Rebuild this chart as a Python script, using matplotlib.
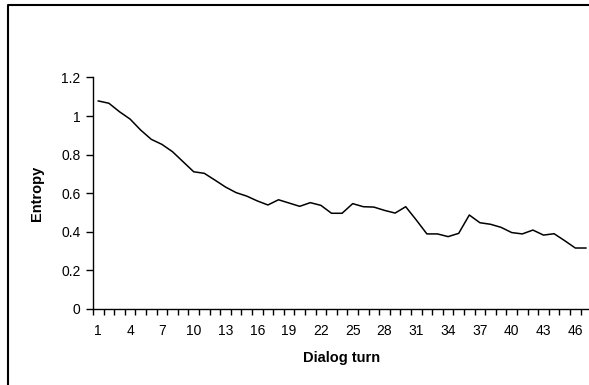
import matplotlib.pyplot as plt
from matplotlib.lines import Line2D

plt.rcParams['font.family'] = ['Liberation Sans', 'DejaVu Sans']

# entropy per dialog turn
turns = list(range(1, 48))
entropy = [1.078, 1.066, 1.022, 0.984, 0.927, 0.879, 0.853, 0.815, 0.763, 0.711,
           0.703, 0.668, 0.632, 0.603, 0.585, 0.560, 0.539, 0.566, 0.549, 0.532,
           0.551, 0.537, 0.496, 0.496, 0.546, 0.530, 0.528, 0.511, 0.497, 0.530,
           0.461, 0.389, 0.389, 0.375, 0.392, 0.487, 0.447, 0.439, 0.423, 0.396,
           0.389, 0.409, 0.383, 0.390, 0.354, 0.316, 0.316]
y_ticks = [0, 0.2, 0.4, 0.6, 0.8, 1, 1.2]
y_tick_labels = ['0', '0.2', '0.4', '0.6', '0.8', '1', '1.2']

W, H = 589, 385
fig = plt.figure(figsize=(W / 100, H / 100), dpi=100)
ax = fig.add_axes([93 / W, 1 - 309 / H, (591.2 - 93) / W, (309 - 77.4) / H])

ax.plot(turns, entropy, color='black', lw=1.1)

ax.set_xlim(0.5, 47.5)
ax.set_ylim(0, 1.2)
ax.set_yticks(y_ticks)
ax.set_yticklabels(y_tick_labels)

# category labels every third turn, tick marks between categories
ax.set_xticks(turns[::3])
ax.set_xticklabels([str(t) for t in turns[::3]])
ax.set_xticks([t + 0.5 for t in range(0, 48)], minor=True)
ax.tick_params(axis='x', which='major', length=0, pad=11, labelsize=10)
ax.tick_params(axis='x', which='minor', length=4, width=1, direction='out')
ax.tick_params(axis='y', length=5, width=1, pad=4, labelsize=10)

for side in ['top', 'right']:
    ax.spines[side].set_visible(False)
for side in ['left', 'bottom']:
    ax.spines[side].set_linewidth(1)
    ax.spines[side].set_color('black')

fig.text(342 / W, 1 - 358 / H, 'Dialog turn', ha='center', va='center',
         fontsize=10.5, fontweight='bold')
fig.text(37 / W, 1 - 193 / H, 'Entropy', ha='center', va='center',
         fontsize=10.5, fontweight='bold', rotation=90)

# outer frame (left and top edges)
fig.add_artist(Line2D([8 / W, 8 / W, 1.0], [0.0, 1 - 5 / H, 1 - 5 / H],
                      transform=fig.transFigure, color='black', lw=1.5))

fig.savefig('out.png', dpi=100)
